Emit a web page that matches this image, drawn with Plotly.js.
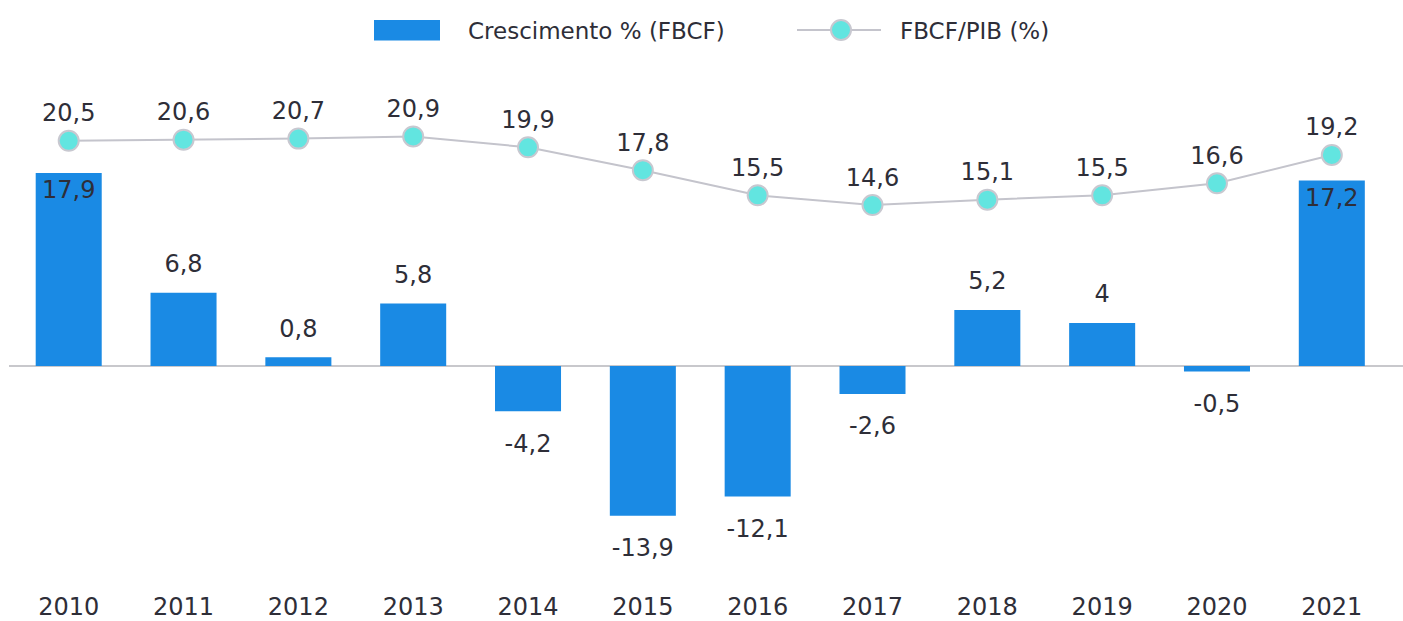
<!DOCTYPE html>
<html>
<head>
<meta charset="utf-8">
<script src="https://cdn.plot.ly/plotly-3.0.1.min.js"></script>
<style>html,body{margin:0;padding:0;background:#fff;}#chart{width:1403px;height:621px;}</style>
</head>
<body>
<div id="chart"></div>
<script>
const years = ['2010','2011','2012','2013','2014','2015','2016','2017','2018','2019','2020','2021'];
const crescimento = [17.9, 6.8, 0.8, 5.8, -4.2, -13.9, -12.1, -2.6, 5.2, 4, -0.5, 17.2];
const fbcfPib = [20.5, 20.6, 20.7, 20.9, 19.9, 17.8, 15.5, 14.6, 15.1, 15.5, 16.6, 19.2];
const legendNames = ['Crescimento % (FBCF)', 'FBCF/PIB (%)'];

const fmt = v => String(v).replace('.', ',');
const BLUE = '#1a8ae4', CYAN = '#62e5e0', GREY = '#c4c4cc', TXT = '#2e2e38';
const FONT = 'DejaVu Sans, Verdana, sans-serif';
const NUMSIZE = 24;

// plot area geometry (pixels)
const L = 9, R = 1403, T = 60, B = 585;
const px = x => (x - L) / (R - L);
const py = y => (B - y) / (B - T);

const inside = crescimento.map(v => Math.abs(v) > 15);
const outYears = years.filter((_, i) => !inside[i]);
const outVals = crescimento.filter((_, i) => !inside[i]);

const barTrace = {
  type: 'bar', x: years, y: crescimento, name: legendNames[0],
  marker: {color: BLUE},
  text: crescimento.map(fmt),
  textposition: inside.map(f => f ? 'inside' : 'none'),
  insidetextanchor: 'end',
  constraintext: 'none',
  textfont: {family: FONT, size: NUMSIZE, color: TXT},
  hoverinfo: 'x+y', showlegend: false
};

const outsideLabels = {
  type: 'scatter', mode: 'markers+text', x: outYears, y: outVals,
  text: outVals.map(fmt),
  textposition: outVals.map(v => v >= 0 ? 'top center' : 'bottom center'),
  marker: {size: outVals.map(v => v >= 0 ? 22 : 34), opacity: 0},
  textfont: {family: FONT, size: NUMSIZE, color: TXT},
  cliponaxis: false, hoverinfo: 'skip', showlegend: false
};

const lineTrace = {
  type: 'scatter', mode: 'lines+markers+text', x: years, y: fbcfPib, name: legendNames[1],
  yaxis: 'y2',
  line: {color: GREY, width: 2},
  marker: {size: 20, color: CYAN, line: {color: '#c8c8d0', width: 2}},
  text: fbcfPib.map(fmt), textposition: 'top center',
  textfont: {family: FONT, size: NUMSIZE, color: TXT},
  cliponaxis: false, showlegend: false
};

const layout = {
  width: 1403, height: 621,
  margin: {l: L, r: 1403 - R, t: T, b: 621 - B},
  paper_bgcolor: '#fff', plot_bgcolor: '#fff',
  bargap: 0.425,
  showlegend: false,
  font: {family: FONT, color: TXT},
  xaxis: {
    type: 'category', range: [-0.52, 11.62], showgrid: false, showline: false,
    ticks: '', ticklabelstandoff: 5,
    tickfont: {family: FONT, size: NUMSIZE, color: TXT}
  },
  yaxis: {
    range: [-20.32, 28.39], showgrid: false, showticklabels: false, showline: false,
    zeroline: true, zerolinecolor: '#c8c8cc', zerolinewidth: 2
  },
  yaxis2: {
    overlaying: 'y', range: [-20.25, 27.91], visible: false, showgrid: false, zeroline: false
  },
  shapes: [
    {type: 'rect', xref: 'paper', yref: 'paper', x0: px(374), x1: px(440), y0: py(40.5), y1: py(20),
     fillcolor: BLUE, line: {width: 0}},
    {type: 'line', xref: 'paper', yref: 'paper', x0: px(797), x1: px(881), y0: py(30), y1: py(30),
     line: {color: GREY, width: 2}},
    {type: 'circle', xref: 'paper', yref: 'paper', x0: px(831), x1: px(851), y0: py(40), y1: py(20),
     fillcolor: CYAN, line: {color: '#c8c8d0', width: 2}}
  ],
  annotations: [
    {xref: 'paper', yref: 'paper', x: px(466), y: py(30.5), xanchor: 'left', yanchor: 'middle',
     text: legendNames[0], showarrow: false, font: {family: FONT, size: 23, color: TXT}},
    {xref: 'paper', yref: 'paper', x: px(898), y: py(30.5), xanchor: 'left', yanchor: 'middle',
     text: legendNames[1], showarrow: false, font: {family: FONT, size: 23, color: TXT}}
  ]
};

Plotly.newPlot('chart', [barTrace, outsideLabels, lineTrace], layout, {displayModeBar: false, staticPlot: true});
</script>
</body>
</html>
